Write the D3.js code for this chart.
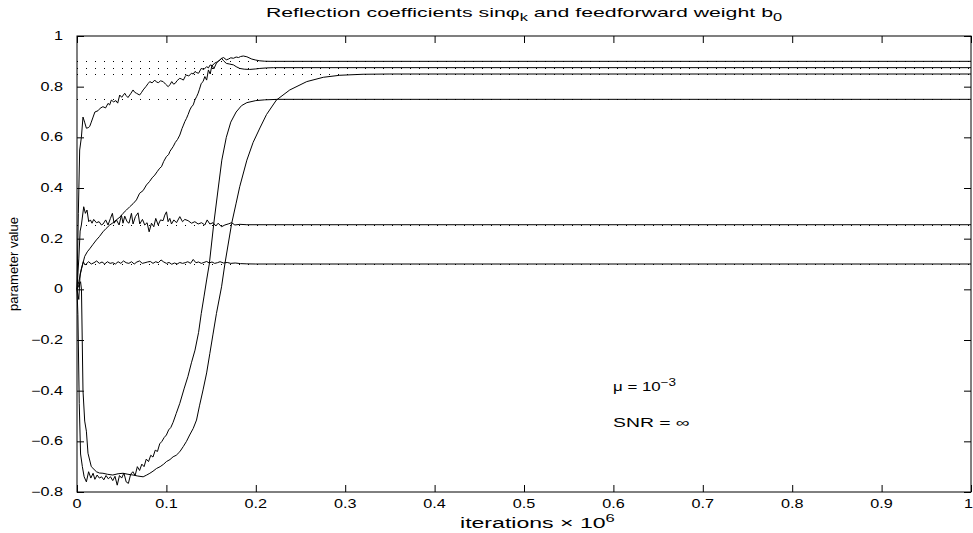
<!DOCTYPE html>
<html lang="en">
<head>
    <meta charset="UTF-8">
    <title>Reflection coefficients</title>
    <script src="https://d3js.org/d3.v7.min.js"></script>
    <style>
        body { margin: 0; background: #fff; }
        svg { display: block; font-family: 'Liberation Sans', Arial, sans-serif; }
        .curve { fill: none; stroke: #000; stroke-width: 1; stroke-linejoin: round; }
        .target { fill: none; stroke: #000; stroke-width: 1; stroke-dasharray: 1, 8; }
        .frame { fill: none; stroke: #000; stroke-width: 1; }
    </style>
</head>
<body>
<svg width="973" height="533"></svg>
<script>
// x ticks (iterations x 10^6) and y ticks (parameter value)
const xTicks = [0, 0.1, 0.2, 0.3, 0.4, 0.5, 0.6, 0.7, 0.8, 0.9, 1];
const yTicks = [-0.8, -0.6, -0.4, -0.2, 0, 0.2, 0.4, 0.6, 0.8, 1];

// true parameter values (dotted lines)
const trueValues = [0.9, 0.875, 0.85, 0.75, 0.255, 0.1];

// adapted parameters, [iterations, value]
const curveA = [[0,0],[0.0015,0.3],[0.003,0.55],[0.0049,0.60],[0.0067,0.68],[0.0085,0.66],[0.0105,0.636],[0.0125,0.638],[0.0142,0.643],[0.016,0.66],[0.018,0.68],[0.02,0.70],[0.0235,0.705],[0.026,0.715],[0.029,0.721],[0.032,0.716],[0.0347,0.734],[0.0365,0.728],[0.0384,0.747],[0.041,0.74],[0.0435,0.745],[0.0455,0.735],[0.0478,0.767],[0.05,0.758],[0.0534,0.774],[0.055,0.765],[0.057,0.757],[0.06,0.772],[0.0627,0.787],[0.0645,0.778],[0.0665,0.774],[0.07,0.767],[0.072,0.776],[0.074,0.787],[0.077,0.8],[0.0795,0.812],[0.0814,0.82],[0.084,0.815],[0.087,0.826],[0.089,0.818],[0.091,0.816],[0.0935,0.823],[0.0964,0.82],[0.099,0.81],[0.102,0.80],[0.104,0.808],[0.106,0.82],[0.108,0.81],[0.1098,0.813],[0.112,0.824],[0.115,0.833],[0.117,0.83],[0.119,0.826],[0.121,0.84],[0.1225,0.846],[0.125,0.842],[0.128,0.853],[0.13,0.85],[0.132,0.86],[0.134,0.855],[0.136,0.853],[0.139,0.872],[0.142,0.868],[0.145,0.879],[0.147,0.874],[0.149,0.886],[0.151,0.882],[0.154,0.893],[0.157,0.898],[0.16,0.905],[0.162,0.912],[0.164,0.915],[0.167,0.906],[0.1695,0.909],[0.172,0.914],[0.175,0.912],[0.178,0.917],[0.1807,0.915],[0.183,0.919],[0.186,0.921],[0.19,0.918],[0.1955,0.909],[0.2,0.905],[0.2045,0.902],[0.21,0.9005],[0.216,0.9],[1,0.9]];

const curveB = [[0,0],[0.002,0.03],[0.005,0.08],[0.0086,0.13],[0.0115,0.148],[0.0142,0.16],[0.018,0.178],[0.0217,0.195],[0.025,0.208],[0.029,0.227],[0.0325,0.24],[0.0366,0.254],[0.04,0.262],[0.044,0.274],[0.048,0.285],[0.0515,0.30],[0.0553,0.313],[0.059,0.326],[0.0627,0.338],[0.0665,0.353],[0.07,0.379],[0.074,0.39],[0.0777,0.412],[0.081,0.425],[0.084,0.44],[0.087,0.451],[0.09,0.466],[0.0925,0.478],[0.0945,0.484],[0.097,0.505],[0.1,0.524],[0.1025,0.532],[0.104,0.545],[0.1075,0.563],[0.11,0.58],[0.1125,0.592],[0.115,0.609],[0.1175,0.635],[0.1187,0.645],[0.1206,0.662],[0.1225,0.675],[0.1243,0.69],[0.1262,0.708],[0.128,0.72],[0.13,0.728],[0.1318,0.747],[0.134,0.762],[0.1355,0.774],[0.137,0.79],[0.139,0.813],[0.141,0.82],[0.143,0.84],[0.145,0.826],[0.147,0.866],[0.149,0.85],[0.151,0.886],[0.153,0.87],[0.156,0.893],[0.158,0.9],[0.1617,0.912],[0.164,0.902],[0.167,0.892],[0.171,0.889],[0.175,0.886],[0.178,0.879],[0.182,0.872],[0.187,0.869],[0.193,0.868],[0.2,0.87],[0.2045,0.872],[0.212,0.874],[0.22,0.875],[1,0.875]];

const curveC = [[0,0],[0.002,0.12],[0.0035,0.23],[0.0049,0.254],[0.0075,0.326],[0.0094,0.30],[0.0112,0.313],[0.0131,0.267],[0.015,0.274],[0.0168,0.261],[0.0187,0.276],[0.0217,0.263],[0.0247,0.267],[0.0273,0.254],[0.0292,0.258],[0.0321,0.274],[0.0347,0.254],[0.0374,0.280],[0.0396,0.300],[0.0415,0.261],[0.0441,0.274],[0.0471,0.254],[0.0497,0.293],[0.0515,0.261],[0.0534,0.289],[0.056,0.267],[0.0582,0.261],[0.0609,0.300],[0.0627,0.258],[0.0653,0.287],[0.0683,0.302],[0.0702,0.258],[0.0732,0.276],[0.0758,0.254],[0.0784,0.263],[0.0807,0.227],[0.0833,0.261],[0.0859,0.247],[0.0881,0.280],[0.0908,0.254],[0.0934,0.274],[0.0963,0.271],[0.0982,0.293],[0.1001,0.306],[0.1019,0.267],[0.1038,0.280],[0.1057,0.258],[0.1083,0.274],[0.1113,0.263],[0.115,0.287],[0.118,0.267],[0.1206,0.276],[0.1243,0.271],[0.1281,0.261],[0.1318,0.267],[0.1355,0.258],[0.1393,0.263],[0.143,0.254],[0.1456,0.274],[0.1486,0.258],[0.1523,0.263],[0.1553,0.250],[0.1579,0.261],[0.1617,0.247],[0.1654,0.254],[0.1691,0.258],[0.1729,0.263],[0.1766,0.254],[0.1822,0.2566],[0.19,0.255],[1,0.255]];

const curveD = [[0,0],[0.002,-0.04],[0.0035,0.06],[0.005,0.083],[0.007,0.109],[0.009,0.096],[0.011,0.1025],[0.013,0.109],[0.016,0.1],[0.019,0.105],[0.022,0.112],[0.025,0.1025],[0.028,0.108],[0.031,0.1],[0.034,0.109],[0.037,0.1025],[0.040,0.105],[0.043,0.1],[0.046,0.109],[0.049,0.1025],[0.052,0.112],[0.055,0.105],[0.058,0.1025],[0.061,0.109],[0.064,0.1],[0.067,0.108],[0.070,0.112],[0.073,0.1025],[0.076,0.105],[0.079,0.108],[0.082,0.11],[0.085,0.1025],[0.088,0.109],[0.091,0.105],[0.094,0.116],[0.097,0.108],[0.1,0.1025],[0.103,0.106],[0.106,0.099],[0.109,0.104],[0.112,0.1],[0.115,0.106],[0.118,0.1025],[0.121,0.105],[0.124,0.109],[0.127,0.1025],[0.130,0.118],[0.133,0.105],[0.136,0.108],[0.139,0.1025],[0.142,0.106],[0.145,0.11],[0.148,0.104],[0.151,0.108],[0.154,0.1025],[0.157,0.105],[0.16,0.109],[0.164,0.104],[0.168,0.106],[0.172,0.1025],[0.177,0.104],[0.183,0.1015],[0.19,0.1005],[0.2,0.1],[1,0.1]];

const curveE = [[0,0],[0.001,-0.1],[0.0025,-0.45],[0.004,-0.65],[0.006,-0.70],[0.008,-0.74],[0.0105,-0.76],[0.013,-0.72],[0.0155,-0.745],[0.018,-0.726],[0.02,-0.75],[0.0225,-0.733],[0.025,-0.745],[0.0275,-0.74],[0.03,-0.752],[0.0325,-0.735],[0.035,-0.748],[0.0375,-0.74],[0.04,-0.755],[0.0425,-0.738],[0.045,-0.773],[0.0475,-0.735],[0.05,-0.745],[0.0525,-0.725],[0.055,-0.76],[0.0575,-0.766],[0.06,-0.73],[0.0625,-0.72],[0.065,-0.735],[0.0675,-0.70],[0.07,-0.715],[0.0725,-0.69],[0.075,-0.70],[0.0775,-0.67],[0.08,-0.68],[0.0825,-0.655],[0.085,-0.662],[0.0875,-0.635],[0.09,-0.64],[0.0925,-0.61],[0.095,-0.6],[0.0975,-0.585],[0.1,-0.575],[0.1025,-0.555],[0.105,-0.545],[0.1075,-0.525],[0.111,-0.49],[0.115,-0.45],[0.12,-0.39],[0.124,-0.345],[0.128,-0.29],[0.132,-0.24],[0.136,-0.17],[0.139,-0.095],[0.142,-0.03],[0.145,0.037],[0.148,0.1],[0.153,0.26],[0.158,0.40],[0.162,0.51],[0.167,0.60],[0.172,0.66],[0.178,0.70],[0.184,0.725],[0.19,0.737],[0.2,0.745],[0.21,0.748],[0.225,0.75],[1,0.75]];

const curveF = [[0,0],[0.004,0.03],[0.005,0.0],[0.0067,-0.4],[0.0086,-0.52],[0.0105,-0.56],[0.0123,-0.647],[0.016,-0.70],[0.0217,-0.72],[0.025,-0.725],[0.029,-0.726],[0.034,-0.73],[0.04,-0.733],[0.046,-0.728],[0.0515,-0.726],[0.057,-0.73],[0.0627,-0.733],[0.068,-0.737],[0.074,-0.74],[0.078,-0.733],[0.0815,-0.726],[0.085,-0.718],[0.089,-0.707],[0.093,-0.7],[0.097,-0.69],[0.1,-0.68],[0.104,-0.672],[0.1075,-0.661],[0.111,-0.655],[0.115,-0.641],[0.119,-0.62],[0.1225,-0.6],[0.126,-0.575],[0.13,-0.549],[0.1337,-0.516],[0.137,-0.46],[0.141,-0.397],[0.145,-0.33],[0.1486,-0.253],[0.152,-0.18],[0.156,-0.095],[0.1617,0.01],[0.1654,0.1],[0.173,0.26],[0.178,0.34],[0.182,0.405],[0.19,0.51],[0.197,0.58],[0.2046,0.637],[0.212,0.69],[0.223,0.747],[0.238,0.787],[0.257,0.82],[0.2755,0.837],[0.294,0.845],[0.32,0.849],[0.35,0.85],[1,0.85]];

const curves = [curveA, curveB, curveC, curveD, curveE, curveF];

const svg = d3.select("svg");
const margin = { top: 36, right: 2, bottom: 41, left: 77 };
const width = +svg.attr("width");
const height = +svg.attr("height");

const x = d3.scaleLinear().domain([0, 1]).range([margin.left, width - margin.right]);
const y = d3.scaleLinear().domain([-0.8, 1]).range([height - margin.bottom, margin.top]);

const tickLen = 7;

// dotted true values
svg.append("g").selectAll("line")
    .data(trueValues)
    .enter().append("line")
    .attr("class", "target")
    .attr("x1", x(0)).attr("x2", x(1))
    .attr("y1", d => Math.round(y(d)) + 0.5)
    .attr("y2", d => Math.round(y(d)) + 0.5);

const line = d3.line().x(d => x(d[0])).y(d => y(d[1]));

svg.append("g").selectAll("path")
    .data(curves)
    .enter().append("path")
    .attr("class", "curve")
    .attr("d", line);

// axes: ticks inside on all four sides, labels left and bottom
svg.append("g")
    .attr("transform", `translate(0,${y(-0.8)})`)
    .call(d3.axisBottom(x).tickValues(xTicks).tickSizeInner(-tickLen).tickSizeOuter(0).tickFormat(""))
    .call(g => g.select(".domain").remove());
svg.append("g")
    .attr("transform", `translate(0,${y(1)})`)
    .call(d3.axisTop(x).tickValues(xTicks).tickSizeInner(-tickLen).tickSizeOuter(0).tickFormat(""))
    .call(g => g.select(".domain").remove());
svg.append("g")
    .attr("transform", `translate(${x(0)},0)`)
    .call(d3.axisLeft(y).tickValues(yTicks).tickSizeInner(-tickLen).tickSizeOuter(0).tickFormat(""))
    .call(g => g.select(".domain").remove());
svg.append("g")
    .attr("transform", `translate(${x(1)},0)`)
    .call(d3.axisRight(y).tickValues(yTicks).tickSizeInner(-tickLen).tickSizeOuter(0).tickFormat(""))
    .call(g => g.select(".domain").remove());

svg.append("rect")
    .attr("class", "frame")
    .attr("x", x(0)).attr("y", y(1))
    .attr("width", x(1) - x(0)).attr("height", y(-0.8) - y(1));

// text in the original is stretched sideways
function wideText(px, py, anchor, size, stretch) {
    return svg.append("g")
        .attr("transform", `translate(${px},${py}) scale(${stretch},1)`)
        .append("text")
        .attr("text-anchor", anchor)
        .attr("font-size", size);
}

const fmt = d => d < 0 ? "\u2212" + Math.abs(d) : String(d);

xTicks.forEach(t => {
    if (t === 1) wideText(width, 508, "end", 12, 1.35).text(fmt(t));
    else wideText(x(t), 508, "middle", 12, 1.35).text(fmt(t));
});
yTicks.forEach(t => wideText(63, y(t) + 4, "end", 12, 1.35).text(fmt(t)));

// title
const title = wideText((x(0) + x(1)) / 2, 17, "middle", 13, 1.64);
title.append("tspan").text("Reflection coefficients sin\u03c6");
title.append("tspan").attr("font-size", 10).attr("dy", 4).text("k");
title.append("tspan").attr("dy", -4).text(" and feedforward weight b");
title.append("tspan").attr("font-size", 10).attr("dy", 4).text("0");

// x label
const xl = wideText(460, 528, "start", 14, 1.65);
xl.append("tspan").text("iterations \u00d7 10");
xl.append("tspan").attr("font-size", 10).attr("dy", -6).text("6");

// y label
svg.append("text")
    .attr("transform", `translate(18,${(y(1) + y(-0.8)) / 2}) rotate(-90)`)
    .attr("text-anchor", "middle")
    .attr("font-size", 13)
    .text("parameter value");

// annotations
const mu = wideText(613, 391, "start", 12.5, 1.35);
mu.append("tspan").text("\u03bc = 10");
mu.append("tspan").attr("font-size", 10).attr("dy", -5).text("\u22123");
wideText(613, 427, "start", 12.5, 1.55).text("SNR = \u221e");
</script>
</body>
</html>
